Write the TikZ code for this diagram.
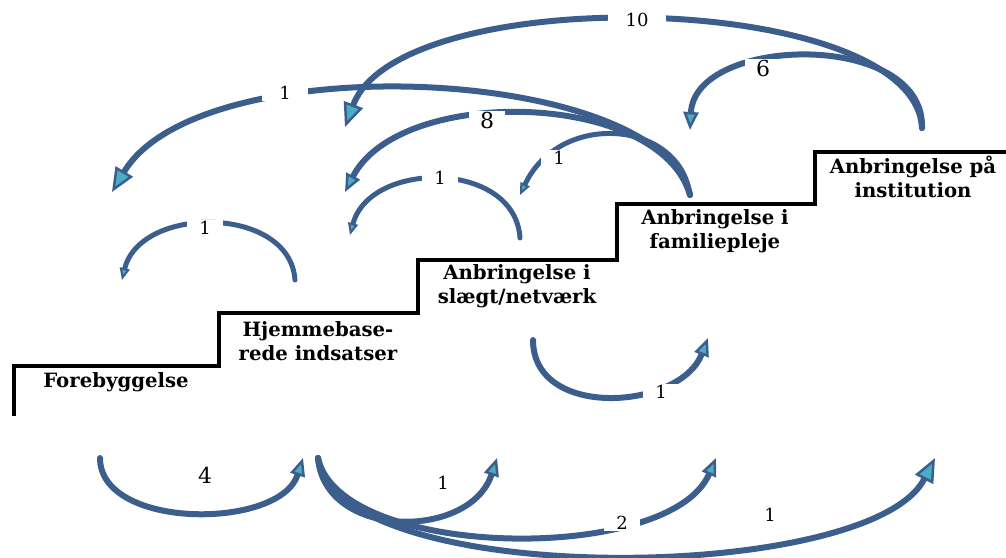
\documentclass[tikz,border=0pt]{standalone}
\usepackage{fontspec}
\setmainfont{DejaVu Serif}
\usetikzlibrary{arrows.meta}
\definecolor{arrblue}{RGB}{59,94,140}
\definecolor{tipcyan}{RGB}{75,172,198}
\tikzset{
	steplabel/.style={
			font=\bfseries\fontsize{19.7}{24}\selectfont,
			align=center, inner sep=0pt
		}
}

\begin{document}
\begin{tikzpicture}[x=1pt, y=-1pt,
        flow/.style = {draw=arrblue, line width=6pt, line cap=round},
      bigarr/.style = {flow, -{Triangle[length=24pt, width=20pt, line width=2.5pt, fill=tipcyan]}},
      midarr/.style = {flow, -{Triangle[length=18pt, width=15pt, line width=2.5pt, fill=tipcyan]}},
    smallarr/.style = {flow, line width=5pt, -{Triangle[length=12pt, width=10pt, line width=2pt, fill=tipcyan]}},
         num/.style = {fill=white, inner sep=1pt, minimum width=36pt,
                       font=\fontsize{18}{18}\selectfont},
      bignum/.style = {num, font=\fontsize{22}{22}\selectfont}
                    ]
\useasboundingbox (0,0) rectangle (1006,557);

% staircase
\draw[line width=4pt, line join=miter]
    (14,416) -- (14,366) -- (219,366) -- (219,313) -- (418,313)
    -- (418,260) -- (617,260) -- (617,204) -- (815,204) -- (815,152) -- (1010,152);

\node[steplabel] (forebyg) at (116,382) {Forebyggelse};
\node[steplabel] (hjemme)  at (318,341) {Hjemmebase-\\rede indsatser};
\node[steplabel] (slaegt)  at (517,286) {Anbringelse i\\slægt/netværk};
\node[steplabel] (famil)   at (715,231) {Anbringelse i\\familiepleje};
\node[steplabel] (instit)  at (913,177) {Anbringelse på\\institution};

% ends of the arrows
\coordinate (inst-top)   at (922,128);
\coordinate (fam-top)    at (690,195);
\coordinate (fam-in)     at (690,130);
\coordinate (slaegt-top) at (520,238);
\coordinate (slaegt-in)  at (520,195);
\coordinate (hjem-top)   at (295,280);
\coordinate (hjem-in1)   at (345,127);
\coordinate (hjem-in2)   at (345,192);
\coordinate (hjem-in3)   at (350,235);
\coordinate (fore-in1)   at (112,192);
\coordinate (fore-in2)   at (122,280);
\coordinate (fore-bot)   at (100,458);
\coordinate (hjem-bot)   at (318,458);
\coordinate (hjem-bin)   at (303,458);
\coordinate (slaegt-bot) at (533,340);
\coordinate (slaegt-bin) at (497,458);
\coordinate (fam-bin1)   at (708,338);
\coordinate (fam-bin2)   at (716,458);
\coordinate (inst-bin)   at (935,458);

% back arrows
\draw[bigarr]   (inst-top) .. controls (915,-10) and (400,-20) .. (hjem-in1);
\draw[midarr]   (inst-top) .. controls (925,30) and (695,35) .. (fam-in);
\draw[bigarr]   (fam-top) .. controls (660,65) and (200,45) .. (fore-in1);
\draw[midarr]   (fam-top) .. controls (660,90) and (400,85) .. (hjem-in2);
\draw[smallarr] (fam-top) .. controls (680,120) and (560,110) .. (slaegt-in);
\draw[smallarr] (slaegt-top) .. controls (515,160) and (370,160) .. (hjem-in3);
\draw[smallarr] (hjem-top) .. controls (290,205) and (140,205) .. (fore-in2);

% forward arrows
\draw[midarr]   (slaegt-bot) .. controls (533,420) and (680,410) .. (fam-bin1);
\draw[midarr]   (fore-bot) .. controls (100,530) and (280,530) .. (hjem-bin);
\draw[midarr]   (hjem-bot) .. controls (325,540) and (470,540) .. (slaegt-bin);
\draw[midarr]   (hjem-bot) .. controls (340,560) and (670,565) .. (fam-bin2);
\draw[bigarr]   (hjem-bot) .. controls (335,590) and (870,585) .. (inst-bin);

% numbers
\node[num, minimum width=58pt] (n-ten)   at (637,20)  {10};
\node[bignum]                  (n-six)   at (763,68)  {6};
\node[num, minimum width=46pt] (n-fore1) at (285,93)  {1};
\node[bignum]                  (n-eight) at (487,120) {8};
\node[num]                     (n-slg1)  at (559,158) {1};
\node[num]                     (n-hjm1)  at (440,178) {1};
\node[num]                     (n-fore2) at (205,228) {1};
\node[num]                     (n-fam1)  at (661,392) {1};
\node[bignum, fill=none]       (n-four)  at (205,475) {4};
\node[num, fill=none]          (n-slg2)  at (443,483) {1};
\node[num]                     (n-two)   at (622,523) {2};
\node[num, fill=none]          (n-inst)  at (770,515) {1};
\end{tikzpicture}
\end{document}
